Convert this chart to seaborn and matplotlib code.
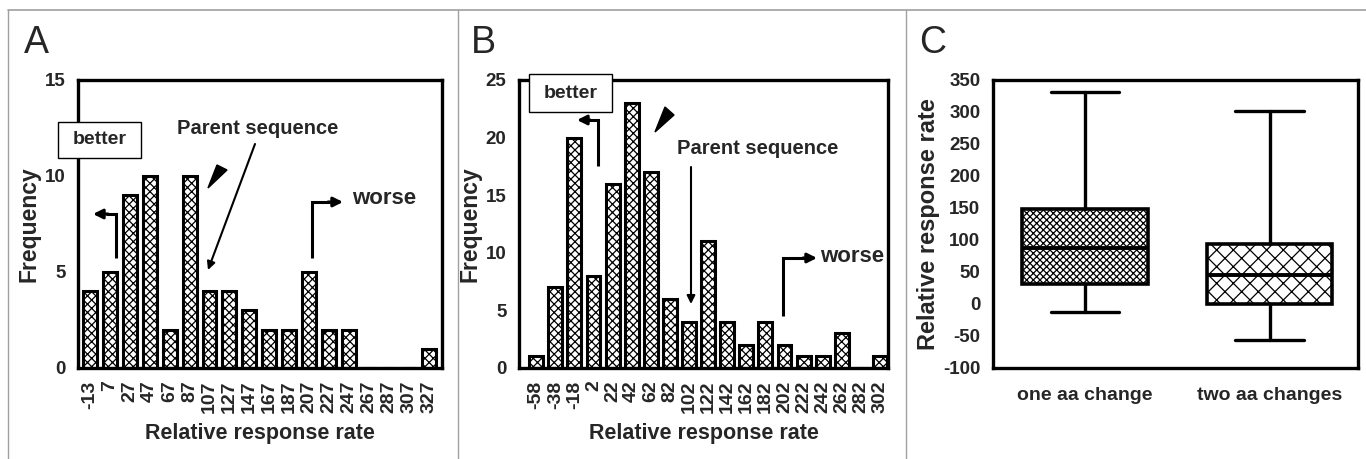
import matplotlib
matplotlib.use("Agg")
import matplotlib.pyplot as plt
import seaborn as sns
from matplotlib.patches import Rectangle, Polygon, FancyArrowPatch
from matplotlib.lines import Line2D

# ---------------- data ----------------
a_bins = ["-13", "7", "27", "47", "67", "87", "107", "127", "147", "167",
          "187", "207", "227", "247", "267", "287", "307", "327"]
a_freq = [4, 5, 9, 10, 2, 10, 4, 4, 3, 2, 2, 5, 2, 2, 0, 0, 0, 1]

b_bins = ["-58", "-38", "-18", "2", "22", "42", "62", "82", "102", "122",
          "142", "162", "182", "202", "222", "242", "262", "282", "302"]
b_freq = [1, 7, 20, 8, 16, 23, 17, 6, 4, 11, 4, 2, 4, 2, 1, 1, 3, 0, 1]

c_groups = ["one aa change", "two aa changes"]
c_whislo = [-12, -57]
c_q1 = [32, 0]
c_med = [87, 45]
c_q3 = [148, 93]
c_whishi = [332, 302]

# ---------------- style ----------------
sns.set_style("white")
plt.rcParams["font.family"] = ["Liberation Sans", "DejaVu Sans"]
plt.rcParams["hatch.linewidth"] = 0.9
plt.rcParams["axes.unicode_minus"] = False

W, H = 1366, 459
fig = plt.figure(figsize=(W / 100, H / 100), dpi=100)


def fx(px):
    return px / W


def fy(py):
    return 1 - py / H


def axes_px(l, t, r, b):
    return fig.add_axes([fx(l), fy(b), (r - l) / W, (b - t) / H])


def style_axes(ax, xsize=14, ysize=13.5):
    for s in ax.spines.values():
        s.set_visible(True)
        s.set_linewidth(2.4)
        s.set_color("black")
    ax.tick_params(axis="both", direction="out", length=6, width=2.2,
                   color="black")
    ax.tick_params(axis="x", labelsize=xsize, pad=3)
    ax.tick_params(axis="y", labelsize=ysize, pad=3)
    for lab in ax.get_xticklabels() + ax.get_yticklabels():
        lab.set_fontweight("bold")


# panel frames
fig.add_artist(Line2D([fx(8), 1], [fy(10), fy(10)], color="#a0a0a0", lw=1.2))
for xv in (8, 458, 906):
    fig.add_artist(Line2D([fx(xv), fx(xv)], [fy(10), 0], color="#a0a0a0", lw=1.0))

# panel labels
for lab, xp in (("A", 24), ("B", 471), ("C", 919)):
    fig.text(fx(xp), fy(53), lab, fontsize=27, ha="left", va="baseline")

# ---------------- Panel A ----------------
axA = axes_px(78, 80, 442, 368)
sns.barplot(x=a_bins, y=a_freq, order=a_bins, ax=axA, color="white",
            edgecolor="black", linewidth=2.2, width=0.7, hatch="xxxx")
axA.set_xlim(-0.59, len(a_bins) - 1 + 0.65)
axA.set_ylim(0, 15)
axA.set_yticks([0, 5, 10, 15])
axA.set_xticks(range(len(a_bins)))
axA.set_xticklabels(a_bins, rotation=90)
style_axes(axA)
axA.set_xlabel("Relative response rate", fontsize=15.5, fontweight="bold", labelpad=7)
axA.set_ylabel("Frequency", fontsize=16.5, fontweight="bold", labelpad=3)

# ---------------- Panel B ----------------
axB = axes_px(519, 80, 888, 368)
sns.barplot(x=b_bins, y=b_freq, order=b_bins, ax=axB, color="white",
            edgecolor="black", linewidth=2.2, width=0.73, hatch="xxxx")
axB.set_xlim(-0.9, len(b_bins) - 1 + 0.42)
axB.set_ylim(0, 25)
axB.set_yticks([0, 5, 10, 15, 20, 25])
axB.set_xticks(range(len(b_bins)))
axB.set_xticklabels(b_bins, rotation=90)
style_axes(axB)
axB.set_xlabel("Relative response rate", fontsize=15.5, fontweight="bold", labelpad=7)
axB.set_ylabel("Frequency", fontsize=16.5, fontweight="bold", labelpad=3)

# ---------------- Panel C ----------------
axC = axes_px(993, 80, 1358, 368)
stats = []
for i, g in enumerate(c_groups):
    stats.append(dict(label=g, whislo=c_whislo[i], q1=c_q1[i], med=c_med[i],
                      q3=c_q3[i], whishi=c_whishi[i], fliers=[]))
bp = axC.bxp(stats, positions=[0, 1], widths=0.68, capwidths=0.37,
             patch_artist=True, showfliers=False,
             boxprops=dict(facecolor="white", edgecolor="black", linewidth=2.6),
             medianprops=dict(color="black", linewidth=2.8),
             whiskerprops=dict(color="black", linewidth=2.4),
             capprops=dict(color="black", linewidth=2.4))
for patch, hatch in zip(bp["boxes"], ["xxxxx", "xx"]):
    patch.set_hatch(hatch)
axC.set_xlim(-0.5, 1.48)
axC.set_ylim(-100, 350)
axC.set_yticks(range(-100, 351, 50))
axC.set_xticks([0, 1])
axC.set_xticklabels(c_groups)
style_axes(axC, xsize=14, ysize=13.5)
axC.tick_params(axis="x", length=8, pad=6)
axC.set_ylabel("Relative response rate", fontsize=17, fontweight="bold", labelpad=2)

# ---------------- annotations (figure pixel coords) ----------------
def line(pts, lw=2.2):
    xs = [fx(p[0]) for p in pts]
    ys = [fy(p[1]) for p in pts]
    fig.add_artist(Line2D(xs, ys, color="black", lw=lw, solid_capstyle="butt",
                          solid_joinstyle="miter"))


def arrow(p0, p1, lw=2.2, scale=14):
    fig.add_artist(FancyArrowPatch(
        (fx(p0[0]), fy(p0[1])), (fx(p1[0]), fy(p1[1])),
        transform=fig.transFigure, arrowstyle="-|>", color="black",
        lw=lw, mutation_scale=scale, shrinkA=0, shrinkB=0))


def tri(pts):
    fig.add_artist(Polygon([(fx(p[0]), fy(p[1])) for p in pts], closed=True,
                           transform=fig.transFigure, color="black"))


def box_text(x0, y0, x1, y1, txt):
    fig.add_artist(Rectangle((fx(x0), fy(y1)), (x1 - x0) / W, (y1 - y0) / H,
                             transform=fig.transFigure, facecolor="white",
                             edgecolor="black", lw=1.0, zorder=5))
    fig.text(fx((x0 + x1) / 2), fy((y0 + y1) / 2), txt, ha="center", va="center",
             fontsize=14, fontweight="bold", zorder=6)


def label(x, y, txt, size=16):
    fig.text(fx(x), fy(y), txt, ha="center", va="center", fontsize=size,
             fontweight="bold")


# A
box_text(58, 122, 141, 158, "better")
line([(116, 258), (116, 214), (106, 214)])
arrow((108, 214), (93, 214))
label(258, 128, "Parent sequence", 14.5)
arrow((255, 144), (208, 270), lw=1.5, scale=12)
tri([(217, 165), (227, 170), (208, 188)])
line([(312, 258), (312, 202), (330, 202)])
arrow((328, 202), (343, 202))
label(384, 199, "worse", 16)

# B
box_text(529, 74, 612, 112, "better")
line([(598, 166), (598, 120), (588, 120)])
arrow((590, 120), (577, 120))
tri([(665, 107), (674, 115), (655, 132)])
label(758, 148, "Parent sequence", 14.5)
arrow((691, 167), (691, 304), lw=1.5, scale=12)
line([(783, 316), (783, 258), (805, 258)])
arrow((803, 258), (817, 258))
label(852, 256, "worse", 16)

fig.savefig("out.png", dpi=100)
